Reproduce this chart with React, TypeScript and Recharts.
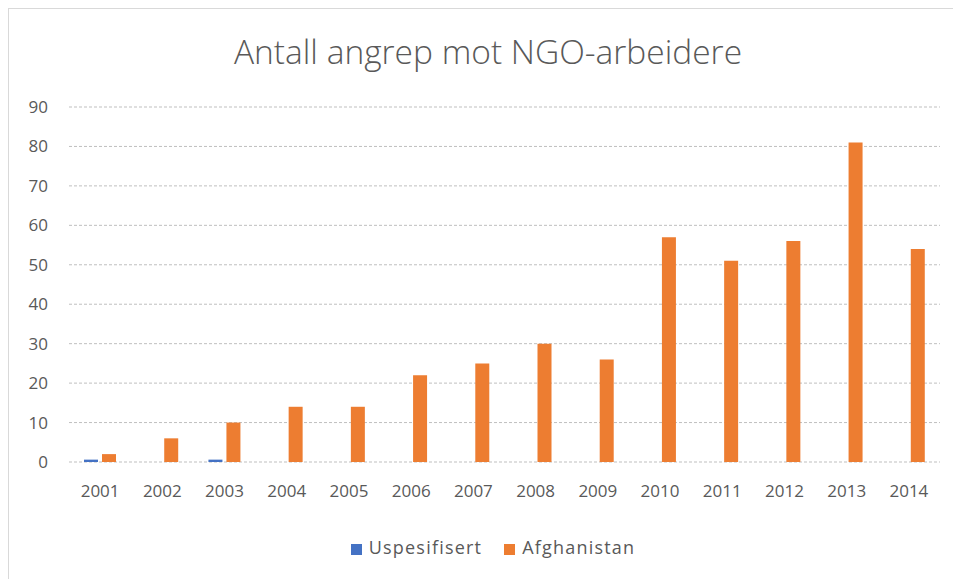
import React from 'react';
import { BarChart, Bar, XAxis, YAxis, CartesianGrid, Legend } from 'recharts';

const years = ['2001', '2002', '2003', '2004', '2005', '2006', '2007', '2008', '2009', '2010', '2011', '2012', '2013', '2014'];
const uspesifisert = [0.6, 0, 0.6, 0, 0, 0, 0, 0, 0, 0, 0, 0, 0, 0];
const afghanistan = [2, 6, 10, 14, 14, 22, 25, 30, 26, 57, 51, 56, 81, 54];
const yTicks = [0, 10, 20, 30, 40, 50, 60, 70, 80, 90];
const seriesOrder = ['Uspesifisert', 'Afghanistan'];

const data = years.map((year, i) => ({
  year,
  Uspesifisert: uspesifisert[i],
  Afghanistan: afghanistan[i],
}));

const textColor = '#595959';
const font = '"Open Sans", sans-serif';

export default function App() {
  return (
    <div
      style={{
        position: 'absolute',
        top: 8,
        left: 8,
        width: 944,
        height: 570,
        borderLeft: '1px solid #d9d9d9',
        borderTop: '1px solid #d9d9d9',
        background: '#fff',
        fontFamily: font,
        overflow: 'hidden',
      }}
    >
      <div
        style={{
          position: 'absolute',
          top: 19,
          left: 0,
          width: 958,
          textAlign: 'center',
          fontSize: 33.5,
          fontWeight: 300,
          color: textColor,
        }}
      >
        Antall angrep mot NGO-arbeidere
      </div>
      <BarChart
        width={944}
        height={570}
        data={data}
        margin={{ top: 98, right: 13, left: 0, bottom: 63 }}
        barGap={4}
      >
        <CartesianGrid vertical={false} stroke="#bfbfbf" strokeDasharray="3 2" />
        <XAxis
          dataKey="year"
          axisLine={false}
          tickLine={false}
          tickSize={0}
          tickMargin={23}
          height={30}
          tick={{ fill: textColor, fontSize: 17, fontFamily: font }}
        />
        <YAxis
          domain={[0, 90]}
          ticks={yTicks}
          axisLine={false}
          tickLine={false}
          tickSize={0}
          tickMargin={21}
          width={60}
          tick={{ fill: textColor, fontSize: 17, fontFamily: font }}
        />
        <Legend
          iconType="square"
          iconSize={11}
          itemSorter={(item: any) => seriesOrder.indexOf(String(item.dataKey))}
          wrapperStyle={{ left: 0, width: 990, top: 526, fontSize: 18, fontFamily: font }}
          formatter={(value: string) => (
            <span style={{ color: textColor, marginLeft: 3, marginRight: 12, letterSpacing: 1.2 }}>{value}</span>
          )}
        />
        <Bar dataKey="Uspesifisert" fill="#4472C4" barSize={14} isAnimationActive={false} />
        <Bar dataKey="Afghanistan" fill="#ED7D31" barSize={14} isAnimationActive={false} />
      </BarChart>
    </div>
  );
}
